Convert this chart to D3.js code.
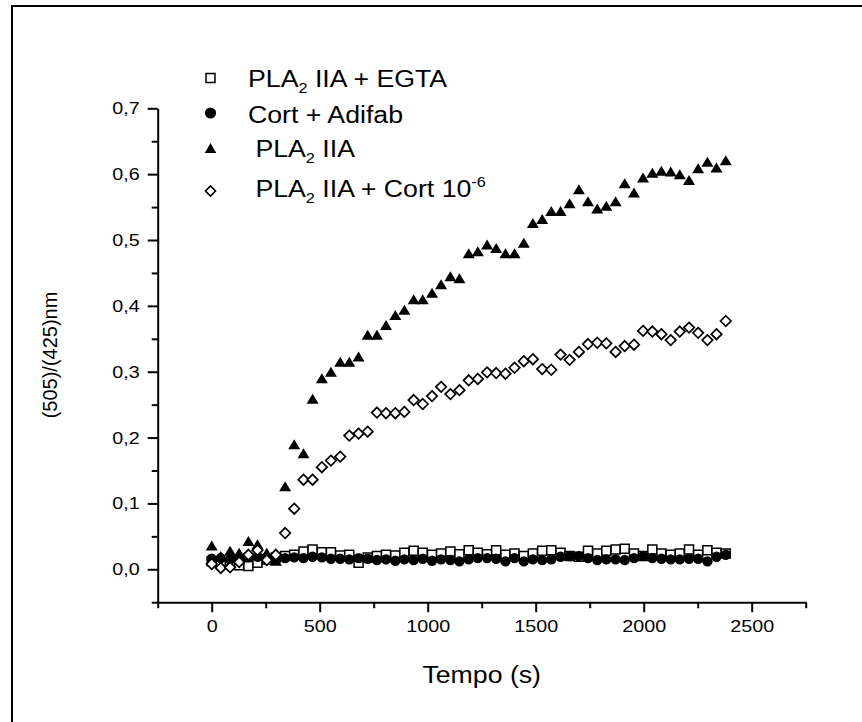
<!DOCTYPE html>
<html>
<head>
<meta charset="utf-8">
<script src="https://cdn.jsdelivr.net/npm/d3@7"></script>
<style>
  html, body { margin: 0; padding: 0; background: #fff; }
  svg { display: block; font-family: "Liberation Sans", Arial, sans-serif; }
</style>
</head>
<body>
<svg id="chart" width="862" height="722"></svg>
<script>
// ---------------- data ----------------
const timeS = [0, 42, 85, 127, 170, 212, 255, 297, 340, 382, 425, 467, 510, 552, 595, 637, 680, 722, 765, 807,
  850, 892, 935, 977, 1020, 1062, 1105, 1147, 1190, 1232, 1275, 1317, 1360, 1402, 1445, 1487, 1530, 1572, 1615, 1657,
  1700, 1742, 1785, 1827, 1870, 1912, 1955, 1997, 2040, 2082, 2125, 2167, 2210, 2252, 2295, 2337, 2380];

const pla2Egta = [0.012, 0.010, 0.008, 0.006, 0.005, 0.010, 0.015, 0.018, 0.020, 0.022,
  0.027, 0.030, 0.026, 0.026, 0.021, 0.022, 0.010, 0.018, 0.020, 0.022,
  0.021, 0.025, 0.028, 0.025, 0.022, 0.024, 0.027, 0.023, 0.029, 0.025,
  0.023, 0.029, 0.022, 0.024, 0.020, 0.024, 0.028, 0.029, 0.025, 0.020,
  0.019, 0.028, 0.024, 0.028, 0.030, 0.031, 0.024, 0.020, 0.030, 0.024,
  0.022, 0.024, 0.030, 0.022, 0.029, 0.025, 0.024];

const cortAdifab = [0.016, 0.017, 0.015, 0.016, 0.018, 0.019, 0.017, 0.018, 0.017, 0.018,
  0.017, 0.019, 0.018, 0.016, 0.016, 0.015, 0.017, 0.016, 0.014, 0.015,
  0.013, 0.015, 0.014, 0.016, 0.013, 0.015, 0.014, 0.012, 0.015, 0.017,
  0.017, 0.016, 0.012, 0.017, 0.012, 0.015, 0.014, 0.015, 0.019, 0.020,
  0.020, 0.017, 0.014, 0.015, 0.015, 0.014, 0.017, 0.020, 0.017, 0.016,
  0.015, 0.015, 0.016, 0.016, 0.012, 0.019, 0.022];

const pla2 = [0.036, 0.020, 0.028, 0.025, 0.043, 0.038, 0.025, 0.013, 0.126, 0.190,
  0.176, 0.259, 0.290, 0.300, 0.315, 0.315, 0.323, 0.356, 0.356, 0.371,
  0.386, 0.394, 0.410, 0.410, 0.420, 0.433, 0.445, 0.442, 0.480, 0.483,
  0.493, 0.488, 0.480, 0.480, 0.496, 0.526, 0.532, 0.544, 0.544, 0.556,
  0.577, 0.559, 0.548, 0.552, 0.559, 0.586, 0.572, 0.595, 0.602, 0.605,
  0.604, 0.600, 0.591, 0.609, 0.619, 0.610, 0.621];

const pla2Cort = [0.008, 0.002, 0.003, 0.011, 0.022, 0.029, 0.014, 0.022, 0.055, 0.092,
  0.136, 0.136, 0.155, 0.165, 0.171, 0.203, 0.206, 0.209, 0.238, 0.237,
  0.237, 0.239, 0.257, 0.251, 0.263, 0.277, 0.266, 0.272, 0.287, 0.289,
  0.299, 0.298, 0.297, 0.306, 0.316, 0.319, 0.304, 0.303, 0.326, 0.318,
  0.330, 0.342, 0.344, 0.343, 0.330, 0.339, 0.341, 0.362, 0.361, 0.357,
  0.348, 0.361, 0.367, 0.359, 0.348, 0.357, 0.377];

const xMajorTicks = [0, 500, 1000, 1500, 2000, 2500];
const xMinorTicks = [-250, 250, 750, 1250, 1750, 2250, 2750];
const yMajorTicks = [0, 0.1, 0.2, 0.3, 0.4, 0.5, 0.6, 0.7];
const yMinorTicks = [-0.05, 0.05, 0.15, 0.25, 0.35, 0.45, 0.55, 0.65];
const yTickLabels = ["0,0", "0,1", "0,2", "0,3", "0,4", "0,5", "0,6", "0,7"];

const legendLabels = [
  [["PLA", ""], ["2", "sub"], [" IIA + EGTA", ""]],
  [["Cort + Adifab", ""]],
  [[" PLA", ""], ["2", "sub"], [" IIA", ""]],
  [[" PLA", ""], ["2", "sub"], [" IIA + Cort 10", ""], ["-6", "sup"]]
];
const xTitle = "Tempo (s)";
const yTitle = "(505)/(425)nm";

// ---------------- drawing ----------------
const svg = d3.select("#chart");
const STRETCH = 1.16;
function stretch(sel) {
  sel.each(function () {
    const L = this.getComputedTextLength();
    d3.select(this).attr("textLength", L * STRETCH).attr("lengthAdjust", "spacingAndGlyphs");
  });
}

// outer frame (right/bottom edges fall outside the canvas)
svg.append("rect").attr("x", 12).attr("y", 6).attr("width", 870).attr("height", 730)
  .attr("fill", "none").attr("stroke", "#000").attr("stroke-width", 2);

const x = d3.scaleLinear().domain([-250, 2750]).range([157.7, 805.7]);
const y = d3.scaleLinear().domain([-0.05, 0.7]).range([602.2, 108.3]);
const x0 = x.range()[0], y0 = y.range()[0];

function styleAxis(g) {
  g.selectAll("path.domain").attr("stroke", "#000").attr("stroke-width", 2);
  g.selectAll(".tick line").attr("stroke", "#000").attr("stroke-width", 2);
  g.selectAll(".tick text").attr("fill", "#000").style("font-size", "17px")
    .style("font-family", '"Liberation Sans", Arial, sans-serif');
}

// X axis
const gxMinor = svg.append("g").attr("transform", `translate(0,${y0})`)
  .call(d3.axisBottom(x).tickValues(xMinorTicks).tickSize(6).tickSizeOuter(0).tickFormat(""));
gxMinor.select("path.domain").remove();
styleAxis(gxMinor);
const gx = svg.append("g").attr("transform", `translate(0,${y0})`)
  .call(d3.axisBottom(x).tickValues(xMajorTicks).tickSize(10).tickSizeOuter(0).tickPadding(8)
    .tickFormat(d3.format("d")));
styleAxis(gx);
gx.selectAll(".tick text").call(stretch);

// Y axis
const gyMinor = svg.append("g").attr("transform", `translate(${x0},0)`)
  .call(d3.axisLeft(y).tickValues(yMinorTicks).tickSize(6).tickSizeOuter(0).tickFormat(""));
gyMinor.select("path.domain").remove();
styleAxis(gyMinor);
const gy = svg.append("g").attr("transform", `translate(${x0},0)`)
  .call(d3.axisLeft(y).tickValues(yMajorTicks).tickSize(10).tickSizeOuter(0).tickPadding(8)
    .tickFormat((d, i) => yTickLabels[i]));
styleAxis(gy);
gy.selectAll(".tick text").call(stretch);

// axis titles
svg.append("text").attr("x", (x.range()[0] + x.range()[1]) / 2).attr("y", 683)
  .attr("text-anchor", "middle").style("font-size", "23px").text(xTitle).call(stretch);
svg.append("text").attr("transform", `translate(57,355) rotate(-90)`)
  .attr("text-anchor", "middle").style("font-size", "20px").text(yTitle);

// symbols
function trianglePath(w, h) { return `M0,${-h/2}L${w/2},${h/2}L${-w/2},${h/2}Z`; }
function diamondPath(w, h) { return `M0,${-h/2}L${w/2},0L0,${h/2}L${-w/2},0Z`; }
function squarePath(s) { return `M${-s/2},${-s/2}h${s}v${s}h${-s}Z`; }
function circlePath(r) { return `M${r},0A${r},${r} 0 1,1 ${-r},0A${r},${r} 0 1,1 ${r},0Z`; }

const seriesDefs = [
  { values: pla2Egta, path: squarePath(9), fill: "#fff", stroke: "#000", sw: 1.5,
    legendPath: squarePath(9) },
  { values: cortAdifab, path: circlePath(5.2), fill: "#000", stroke: "none", sw: 0,
    legendPath: circlePath(5.6) },
  { values: pla2, path: trianglePath(12, 10), fill: "#000", stroke: "none", sw: 0,
    legendPath: trianglePath(11.5, 10) },
  { values: pla2Cort, path: diamondPath(10.5, 10.5), fill: "#fff", stroke: "#000", sw: 1.7,
    legendPath: diamondPath(10, 10) }
];

seriesDefs.forEach(s => {
  svg.append("g").selectAll("path").data(s.values).join("path")
    .attr("transform", (d, i) => `translate(${x(timeS[i])},${y(d)})`)
    .attr("d", s.path).attr("fill", s.fill).attr("stroke", s.stroke).attr("stroke-width", s.sw);
});

// legend
const legSymY = [78, 113, 148, 191];
const legBase = [86.7, 122.7, 156.7, 196.7];
const legend = svg.append("g");
seriesDefs.forEach((s, k) => {
  legend.append("path").attr("transform", `translate(210.5,${legSymY[k]})`)
    .attr("d", s.legendPath).attr("fill", s.fill).attr("stroke", s.stroke).attr("stroke-width", s.sw);
  const t = legend.append("text").attr("x", 248).attr("y", legBase[k])
    .attr("xml:space", "preserve").style("white-space", "pre").style("font-size", "23px");
  legendLabels[k].forEach(([txt, kind]) => {
    const ts = t.append("tspan").text(txt);
    if (kind === "sub") ts.style("font-size", "14px").attr("dy", 6.3);
    else if (kind === "sup") ts.style("font-size", "14px").attr("dy", -9.7);
    else if (ts.node().previousSibling && ts.node().previousSibling.__kind === "sub") ts.attr("dy", -6.3);
    ts.node().__kind = kind;
  });
  t.call(stretch);
});
</script>
</body>
</html>
